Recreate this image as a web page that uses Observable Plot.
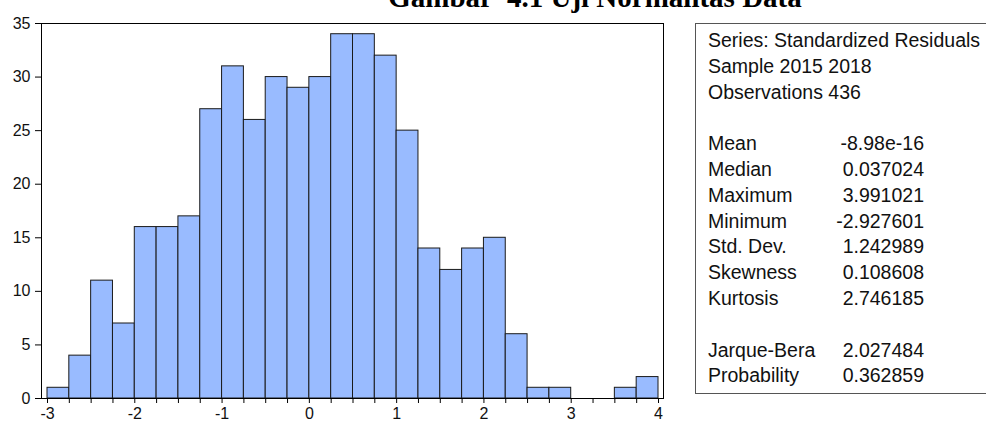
<!DOCTYPE html>
<html><head><meta charset="utf-8">
<script src="https://cdn.jsdelivr.net/npm/d3@7"></script>
<script src="https://cdn.jsdelivr.net/npm/@observablehq/plot@0.6"></script>
<style>
body{margin:0;background:#fff}
#chart{width:986px;height:425px;overflow:hidden}
</style>
</head><body><div id="chart"></div>
<script>
// Histogram of standardized residuals (bin width 0.25)
const binStarts = [-3,-2.75,-2.5,-2.25,-2,-1.75,-1.5,-1.25,-1,-0.75,-0.5,-0.25,0,0.25,0.5,0.75,1,1.25,1.5,1.75,2,2.25,2.5,2.75,3,3.25,3.5,3.75];
const counts    = [1,4,11,7,16,16,17,27,31,26,30,29,30,34,34,32,25,14,12,14,15,6,1,1,0,0,1,2];
const binWidth = 0.25;
const xMajorTicks = [-3,-2,-1,0,1,2,3,4];
const yTicks = [0,5,10,15,20,25,30,35];

const titleText = "Gambar  4.1 Uji Normalitas Data";
const headerLines = ["Series: Standardized Residuals", "Sample 2015 2018", "Observations 436"];
const statLabels = ["Mean","Median","Maximum","Minimum","Std. Dev.","Skewness","Kurtosis"];
const statValues = ["-8.98e-16","0.037024","3.991021","-2.927601","1.242989","0.108608","2.746185"];
const testLabels = ["Jarque-Bera","Probability"];
const testValues = ["2.027484","0.362859"];

const bars = binStarts.map((s, i) => ({x1: s, x2: s + binWidth, n: counts[i]})).filter(d => d.n > 0);
const minorTicks = d3.range(xMajorTicks[0], xMajorTicks[xMajorTicks.length-1] + binWidth/2, binWidth);

const W = 986, H = 425;
const plotLeft = 41, plotRight = 663, plotTop = 23, plotBottom = 398;
const pxPerUnit = (658 - 47) / 7;
const xDomain = [-3 - (47 - plotLeft) / pxPerUnit, 4 + (plotRight - 658) / pxPerUnit];

const svg = Plot.plot({
  width: W, height: H,
  marginLeft: plotLeft, marginRight: W - plotRight, marginTop: plotTop, marginBottom: H - plotBottom,
  style: {fontFamily: "'Liberation Sans', Arial, sans-serif", fontSize: "16px", color: "#000", background: "transparent"},
  x: {domain: xDomain},
  y: {domain: [0, 35]},
  marks: [
    Plot.rectY(bars, {x1: "x1", x2: "x2", y: "n", fill: "#99bbff", stroke: "#1a1a1a", strokeWidth: 1}),
    Plot.frame({stroke: "#000", strokeWidth: 1}),
    Plot.axisY({ticks: yTicks, tickSize: 6, tickPadding: 5, label: null, stroke: "#000", fill: "#111"}),
    Plot.axisX({ticks: minorTicks, tickSize: 5, tickPadding: 4, label: null, stroke: "#000", fill: "#111",
      tickFormat: d => xMajorTicks.includes(d) ? String(d) : ""})
  ]
});

const s = d3.select(svg);
// Title (partly cut off at top, as in the reference)
s.append("text")
  .attr("x", 595).attr("y", 7)
  .attr("text-anchor", "middle")
  .style("font-family", "'Liberation Serif', 'Times New Roman', serif")
  .style("font-weight", "bold").style("font-size", "29px")
  .style("white-space", "pre")
  .attr("fill", "#000")
  .text(titleText);

// Stats box
const boxX = 695, boxTop = 23, boxBottom = 393;
s.append("rect").attr("x", boxX + 0.5).attr("y", boxTop + 0.5)
  .attr("width", 400).attr("height", boxBottom - boxTop)
  .attr("fill", "#fff").attr("stroke", "#555").attr("stroke-width", 1);

const lh = 25.8, base = 47, labX = 708, valX = 924;
const g = s.append("g")
  .style("font-family", "'Liberation Sans', Arial, sans-serif")
  .style("font-size", "19.5px").attr("fill", "#111").attr("text-anchor", "start");
headerLines.forEach((t, i) => g.append("text").attr("x", labX).attr("y", base + i * lh).attr("text-anchor", "start").text(t));
statLabels.forEach((t, i) => {
  g.append("text").attr("x", labX).attr("y", base + (i + 4) * lh).attr("text-anchor", "start").text(t);
  g.append("text").attr("x", valX).attr("y", base + (i + 4) * lh).attr("text-anchor", "end").text(statValues[i]);
});
testLabels.forEach((t, i) => {
  g.append("text").attr("x", labX).attr("y", base + (i + 12) * lh).attr("text-anchor", "start").text(t);
  g.append("text").attr("x", valX).attr("y", base + (i + 12) * lh).attr("text-anchor", "end").text(testValues[i]);
});

document.getElementById("chart").appendChild(svg);
</script>
</body></html>
